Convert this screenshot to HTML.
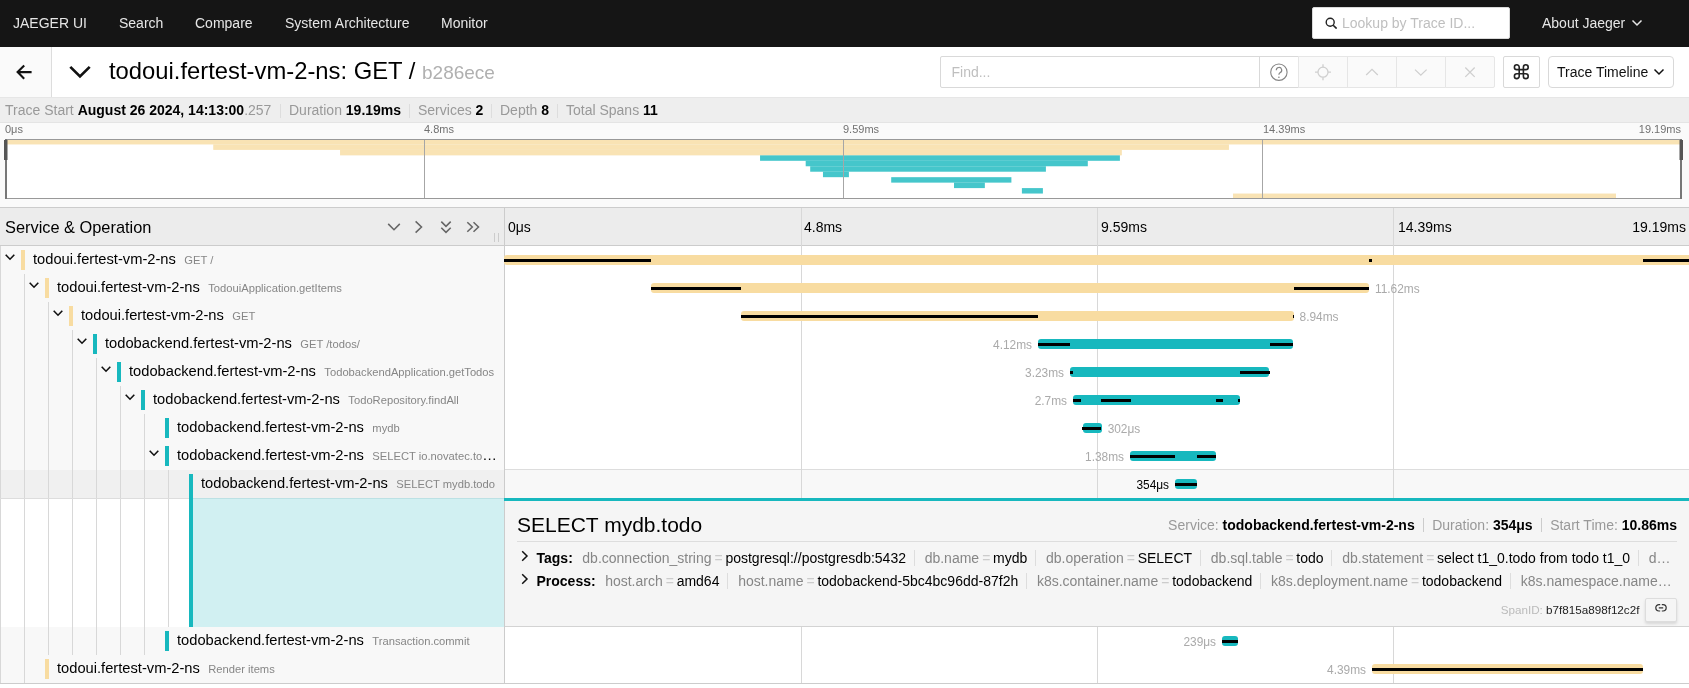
<!DOCTYPE html>
<html>
<head>
<meta charset="utf-8">
<title>Jaeger UI</title>
<style>
*{box-sizing:border-box;margin:0;padding:0}
html,body{width:1689px;height:688px;overflow:hidden;background:#fff}
body{font-family:"Liberation Sans",sans-serif;font-size:14px;color:rgba(0,0,0,.85);position:relative;will-change:transform}
.abs{position:absolute}
/* top nav */
#nav{position:absolute;left:0;top:0;width:1689px;height:47px;background:#151515;color:#e6e6e6}
#nav span{position:absolute;top:0;line-height:46px;font-size:14px;white-space:nowrap}
#lookup{position:absolute;left:1312px;top:7px;width:198px;height:32px;background:#fff;border-radius:2px;border:1px solid #d9d9d9}
#lookup span{position:absolute;left:29px;top:0;line-height:30px;color:#bfbfbf;font-size:14px}
/* title */
#hdr{position:absolute;left:0;top:47px;width:1689px;height:51px;background:#fff;border-bottom:1px solid #e6e6e6}
#back{position:absolute;left:0;top:0;width:52px;height:50px;background:#fafafa;border-right:1px solid #ddd}
#title{position:absolute;left:109px;top:0;line-height:48px;font-size:23.8px;color:#000;white-space:nowrap}
#title small{font-size:19px;color:#b0b0b0;padding-left:0}
.btn{position:absolute;top:9px;height:32px;border:1px solid #d9d9d9;background:#fff;border-radius:2px}
.dis{background:#fafafa;border-color:#e6e6e6}
/* overview */
#ov{position:absolute;left:0;top:98px;width:1689px;height:25px;background:#eee;border-bottom:1px solid #e4e4e4;font-size:14px;line-height:25px;white-space:nowrap}
#ov span{position:absolute;top:0}
#ov .l{color:#999}
#ov b{color:#000}
#ov i{position:absolute;top:6px;width:1px;height:14px;background:#ddd}
/* minimap */
#mm{position:absolute;left:0;top:123px;width:1689px;height:85px;background:#fafafa;border-bottom:1px solid #e6e6e6}
#mm .t{position:absolute;top:-1px;font-size:11px;line-height:14px;color:#717171}
#cv{position:absolute;left:5px;top:16px;overflow:visible}
/* timeline header */
#th{position:absolute;left:0;top:207px;width:1689px;height:39px;background:#ececec;border-top:1px solid #ccc;border-bottom:1px solid #ccc}
#th h3{position:absolute;left:5px;top:1px;line-height:37px;font-size:16.38px;font-weight:normal;color:#000}
#th .tk{position:absolute;top:1px;line-height:37px;font-size:14px;color:#000}
.vl{position:absolute;width:1px;background:#d8d8d8}
/* rows */
.row{position:absolute;left:0;width:1689px;height:28px}
.nm{position:absolute;left:0;top:0;width:504px;height:28px;background:#f8f8f8}
.row.alt .nm{background:#f0f0f0}

.sv{position:absolute;top:0;line-height:27px;font-size:14.7px;color:#000;white-space:nowrap}
.sv small{font-size:11.2px;color:#868686;padding-left:8.4px}
.sv em{font-style:normal;font-size:14.7px;color:#000}
.cb{position:absolute;top:4px;width:4px;height:20px}
.y{background:#f8dca1}
.c{background:#17b8be}
.bar{position:absolute;top:9px;height:10px;border-radius:3px}
.lg{position:absolute;top:13px;height:3px;background:#000}
.lb{position:absolute;top:0;line-height:31px;font-size:11.9px;color:#aaa;white-space:nowrap}
.ind{position:absolute;top:0;width:1px;height:28px;background:#d8d8d8}

#det{position:absolute;left:505px;top:0;width:1184px;height:129px;background:#f5f5f5;border-top:3px solid #17b8be;border-bottom:1px solid #d3d3d3;white-space:nowrap;overflow:hidden}
#det .dt{position:absolute;left:12px;top:9px;font-size:21px;line-height:30px;color:#000}
#det .do{position:absolute;right:12px;top:9px;font-size:14px;line-height:30px;color:#000}
#det .l{color:#999}
#det .do i{display:inline-block;width:1px;height:14px;background:#ccc;margin:0 8.5px 0 8px;vertical-align:-2px}
#det .dl{position:absolute;left:12px;right:12px;top:40px;height:1px;background:#ddd}
#det .kv{position:absolute;left:12px;width:1160px;height:22px;line-height:22px;font-size:14px;color:#000;overflow:hidden}
#det .kv b{margin-left:19.5px}
#det .kv .ar{position:absolute;left:4px;top:3px}
#det .kv .k{color:#868686}
#det .kv .e{color:#ccc;padding:0 2.7px 0 3px}
#det .kv i{display:inline-block;width:1px;height:16px;background:#ddd;margin:0 9.9px 0 7.8px;vertical-align:-3px}
#det .sid{position:absolute;right:49.6px;top:100px;font-size:11.67px;line-height:18px;color:#222}
#det .sid .l{color:#bbb}
#det .lk{position:absolute;right:12px;top:97px;width:32px;height:23.5px;border:1px solid #ddd;background:#f5f5f5;border-radius:2px;box-shadow:0 2px 3px rgba(0,0,0,.12)}
</style>
</head>
<body>
<div id="nav">
<span style="left:13px">JAEGER UI</span>
<span style="left:119px">Search</span>
<span style="left:195px">Compare</span>
<span style="left:285px">System Architecture</span>
<span style="left:441px">Monitor</span>
<div id="lookup">
<svg class="abs" style="left:12px;top:9px" width="12" height="12" viewBox="0 0 12 12"><circle cx="5.2" cy="5.2" r="4" fill="none" stroke="#222" stroke-width="1.4"/><path d="M8.2 8.2 L11.6 11.6" stroke="#222" stroke-width="1.6"/></svg>
<span>Lookup by Trace ID...</span></div>
<span style="left:1542px">About Jaeger</span>
<svg class="abs" style="left:1631px;top:19px" width="12" height="8" viewBox="0 0 12 8"><path d="M1.5 1.5 L6 6 L10.5 1.5" fill="none" stroke="#e6e6e6" stroke-width="1.5"/></svg>
</div>

<div id="hdr">
<div id="back"></div>
<svg class="abs" style="left:0;top:0" width="100" height="50" viewBox="0 47 100 50" fill="none" stroke="#111">
<path d="M31.6 72.1 H18 M24.2 65.5 L17.6 72.1 L24.2 78.7" stroke-width="2.1"/>
<path d="M70.3 66.9 L80 76.4 L89.7 66.9" stroke-width="2.7"/>
</svg>
<div id="title">todoui.fertest-vm-2-ns: GET / <small>b286ece</small></div>
<div class="btn" style="left:940px;width:320px;border-radius:2px 0 0 2px"><span class="abs" style="left:10.5px;top:0;line-height:30px;color:#bfbfbf;font-size:14px">Find...</span></div>
<div class="btn" style="left:1259px;width:40px;border-radius:0"></div>
<div class="btn dis" style="left:1298px;width:50px;border-radius:0"></div>
<div class="btn dis" style="left:1347px;width:50px;border-radius:0"></div>
<div class="btn dis" style="left:1396px;width:50px;border-radius:0"></div>
<div class="btn dis" style="left:1445px;width:50px;border-radius:0 2px 2px 0"></div>
<div class="btn" style="left:1503px;width:37px"></div>
<div class="btn" style="left:1548px;width:126px;border-radius:4px"><span class="abs" style="left:8px;top:0;line-height:30px;font-size:14px;color:#111;white-space:nowrap">Trace Timeline</span>
<svg class="abs" style="left:104px;top:11px" width="12" height="8" viewBox="0 0 12 8"><path d="M1.5 1.5 L6 6 L10.5 1.5" fill="none" stroke="#111" stroke-width="1.5"/></svg></div>
<svg class="abs" style="left:1259px;top:9px" width="290" height="34" viewBox="1259 56 290 34" fill="none">
<circle cx="1278.9" cy="72.2" r="8.2" stroke="#858585" stroke-width="1.1"/>
<path d="M1276.3 70.2 a2.7 2.7 0 1 1 3.9 2.4 c-0.9 0.5 -1.3 1 -1.3 2.2" stroke="#858585" stroke-width="1.2"/>
<circle cx="1278.9" cy="77.3" r="0.8" fill="#858585"/>
<g stroke="#cfcfcf" stroke-width="1.3">
<circle cx="1323" cy="72.2" r="5"/>
<path d="M1323 64.2 V67.2 M1323 77.2 V80.2 M1315 72.2 H1318 M1328 72.2 H1331"/>
<path d="M1366.2 75 L1372 69.4 L1377.8 75"/>
<path d="M1415 69.6 L1420.8 75.2 L1426.6 69.6"/>
<path d="M1465.3 67.5 L1474.7 76.9 M1474.7 67.5 L1465.3 76.9"/>
</g>
<path d="M1519.2 76.2 V67.2 A2.4 2.4 0 1 0 1516.8 69.6 H1525.8 A2.4 2.4 0 1 0 1523.4 67.2 V76.2 A2.4 2.4 0 1 0 1525.8 73.8 H1516.8 A2.4 2.4 0 1 0 1519.2 76.2 Z" stroke="#222" stroke-width="1.6"/>
</svg>
</div>

<div id="ov">
<span class="l" style="left:5px">Trace Start <b>August 26 2024, 14:13:00</b>.257</span>
<i style="left:280px"></i>
<span class="l" style="left:289px">Duration <b>19.19ms</b></span>
<i style="left:409px"></i>
<span class="l" style="left:418px">Services <b>2</b></span>
<i style="left:491px"></i>
<span class="l" style="left:500px">Depth <b>8</b></span>
<i style="left:557px"></i>
<span class="l" style="left:566px">Total Spans <b>11</b></span>
</div>

<div id="mm">
<span class="t" style="left:5px">0μs</span>
<span class="t" style="left:424px">4.8ms</span>
<span class="t" style="left:843px">9.59ms</span>
<span class="t" style="left:1263px">14.39ms</span>
<span class="t" style="right:8px">19.19ms</span>
<svg id="cv" width="1677" height="60" viewBox="0 0 1677 60" shape-rendering="crispEdges">
<rect x="0" y="0" width="1677" height="60" fill="#fff"/>
<rect x="0.00" y="0.00" width="1677.00" height="5.45" fill="#f8dca1" fill-opacity="0.8" shape-rendering="auto"/>
<rect x="208.24" y="5.45" width="1015.73" height="5.45" fill="#f8dca1" fill-opacity="0.8" shape-rendering="auto"/>
<rect x="335.05" y="10.91" width="781.80" height="5.45" fill="#f8dca1" fill-opacity="0.8" shape-rendering="auto"/>
<rect x="755.05" y="16.36" width="359.85" height="5.45" fill="#17b8be" fill-opacity="0.8" shape-rendering="auto"/>
<rect x="800.70" y="21.82" width="282.10" height="5.45" fill="#17b8be" fill-opacity="0.8" shape-rendering="auto"/>
<rect x="805.20" y="27.27" width="235.70" height="5.45" fill="#17b8be" fill-opacity="0.8" shape-rendering="auto"/>
<rect x="817.97" y="32.73" width="25.93" height="5.45" fill="#17b8be" fill-opacity="0.8" shape-rendering="auto"/>
<rect x="886.20" y="38.18" width="120.20" height="5.45" fill="#17b8be" fill-opacity="0.8" shape-rendering="auto"/>
<rect x="949.00" y="43.64" width="30.85" height="5.45" fill="#17b8be" fill-opacity="0.8" shape-rendering="auto"/>
<rect x="1016.90" y="49.09" width="21.00" height="5.45" fill="#17b8be" fill-opacity="0.8" shape-rendering="auto"/>
<rect x="1228.00" y="54.55" width="383.00" height="5.45" fill="#f8dca1" fill-opacity="0.8" shape-rendering="auto"/>
<path d="M419.5 0V60M838.5 0V60M1257.5 0V60" stroke="#a6a6a6" stroke-width="1" fill="none"/>
<rect x="0.5" y="0.5" width="1676" height="59" fill="none" stroke="#999" stroke-width="1"/>
<rect x="0" y="0" width="2" height="60" fill="#777"/>
<rect x="1675" y="0" width="2" height="60" fill="#777"/>
<rect x="-1" y="1" width="3.5" height="20" fill="#555" shape-rendering="auto"/>
<rect x="1674.5" y="1" width="3.5" height="20" fill="#555" shape-rendering="auto"/>
</svg>
</div>

<div id="th">
<h3>Service &amp; Operation</h3>
<span class="tk" style="left:508px">0μs</span>
<span class="tk" style="left:804px">4.8ms</span>
<span class="tk" style="left:1101px">9.59ms</span>
<span class="tk" style="left:1398px">14.39ms</span>
<span class="tk" style="right:3px">19.19ms</span>
</div>
<svg class="abs" style="left:380px;top:212px" width="130" height="34" viewBox="380 212 130 34" fill="none" stroke="#666" stroke-width="1.55">
<path d="M388.2 223.9 L394 229.7 L399.8 223.9"/>
<path d="M415.6 221.4 L421.5 227 L415.6 232.6"/>
<path d="M441.3 221.6 L446 226.3 L450.7 221.6 M441.3 227.7 L446 232.4 L450.7 227.7"/>
<path d="M467.3 222.2 L472.3 227 L467.3 231.8 M473.5 222.2 L478.5 227 L473.5 231.8"/>
<path d="M494.5 233 V242 M498.5 233 V242" stroke="#ccc" stroke-width="1"/>
</svg>
<div id="rows">
<div class="abs" style="left:505px;top:469px;width:1184px;height:29px;background:#f8f8f8;border-top:1px solid #ddd"></div>
<div class="vl" style="left:504px;top:208px;height:475px;background:#ccc"></div>
<div class="vl" style="left:801px;top:208px;height:475px"></div>
<div class="vl" style="left:1097px;top:208px;height:475px"></div>
<div class="vl" style="left:1393px;top:208px;height:475px"></div>
<div class="abs" style="left:0;top:683px;width:1689px;height:1px;background:#ccc"></div>
<div class="abs" style="left:504px;top:498px;width:1px;height:3px;background:#17b8be"></div>

<div class="row" style="top:246px"><div class="nm"><div class="ind" style="left:0px"></div><svg class="abs" style="left:5px;top:8px" width="10" height="7" viewBox="0 0 10 7"><path d="M0.7 0.8 L5 5.2 L9.3 0.8" fill="none" stroke="#111" stroke-width="1.6"/></svg><div class="cb y" style="left:21px"></div><div class="sv" style="left:33px">todoui.fertest-vm-2-ns<small>GET /</small></div></div><div class="bar y" style="left:504px;width:1189px"></div><div class="lg" style="left:504px;width:147px"></div><div class="lg" style="left:1369px;width:3px"></div><div class="lg" style="left:1643px;width:50px"></div></div>
<div class="row" style="top:274px"><div class="nm"><div class="ind" style="left:0px"></div><div class="ind" style="left:24px"></div><svg class="abs" style="left:29px;top:8px" width="10" height="7" viewBox="0 0 10 7"><path d="M0.7 0.8 L5 5.2 L9.3 0.8" fill="none" stroke="#111" stroke-width="1.6"/></svg><div class="cb y" style="left:45px"></div><div class="sv" style="left:57px">todoui.fertest-vm-2-ns<small>TodouiApplication.getItems</small></div></div><div class="bar y" style="left:651px;width:718px"></div><div class="lg" style="left:651px;width:90px"></div><div class="lg" style="left:1294px;width:75px"></div><span class="lb" style="left:1374.95px">11.62ms</span></div>
<div class="row" style="top:302px"><div class="nm"><div class="ind" style="left:0px"></div><div class="ind" style="left:24px"></div><div class="ind" style="left:48px"></div><svg class="abs" style="left:53px;top:8px" width="10" height="7" viewBox="0 0 10 7"><path d="M0.7 0.8 L5 5.2 L9.3 0.8" fill="none" stroke="#111" stroke-width="1.6"/></svg><div class="cb y" style="left:69px"></div><div class="sv" style="left:81px">todoui.fertest-vm-2-ns<small>GET</small></div></div><div class="bar y" style="left:741px;width:552.5999999999999px"></div><div class="lg" style="left:741px;width:297px"></div><div class="lg" style="left:1292.6px;width:1.0px"></div><span class="lb" style="left:1299.55px">8.94ms</span></div>
<div class="row" style="top:330px"><div class="nm"><div class="ind" style="left:0px"></div><div class="ind" style="left:24px"></div><div class="ind" style="left:48px"></div><div class="ind" style="left:72px"></div><svg class="abs" style="left:77px;top:8px" width="10" height="7" viewBox="0 0 10 7"><path d="M0.7 0.8 L5 5.2 L9.3 0.8" fill="none" stroke="#111" stroke-width="1.6"/></svg><div class="cb c" style="left:93px"></div><div class="sv" style="left:105px">todobackend.fertest-vm-2-ns<small>GET /todos/</small></div></div><div class="bar c" style="left:1038px;width:255px"></div><div class="lg" style="left:1038px;width:32px"></div><div class="lg" style="left:1270px;width:23px"></div><span class="lb" style="right:656.95px">4.12ms</span></div>
<div class="row" style="top:358px"><div class="nm"><div class="ind" style="left:0px"></div><div class="ind" style="left:24px"></div><div class="ind" style="left:48px"></div><div class="ind" style="left:72px"></div><div class="ind" style="left:96px"></div><svg class="abs" style="left:101px;top:8px" width="10" height="7" viewBox="0 0 10 7"><path d="M0.7 0.8 L5 5.2 L9.3 0.8" fill="none" stroke="#111" stroke-width="1.6"/></svg><div class="cb c" style="left:117px"></div><div class="sv" style="left:129px">todobackend.fertest-vm-2-ns<small>TodobackendApplication.getTodos</small></div></div><div class="bar c" style="left:1070px;width:198.79999999999995px"></div><div class="lg" style="left:1070px;width:3px"></div><div class="lg" style="left:1240px;width:30px"></div><span class="lb" style="right:624.95px">3.23ms</span></div>
<div class="row" style="top:386px"><div class="nm"><div class="ind" style="left:0px"></div><div class="ind" style="left:24px"></div><div class="ind" style="left:48px"></div><div class="ind" style="left:72px"></div><div class="ind" style="left:96px"></div><div class="ind" style="left:120px"></div><svg class="abs" style="left:125px;top:8px" width="10" height="7" viewBox="0 0 10 7"><path d="M0.7 0.8 L5 5.2 L9.3 0.8" fill="none" stroke="#111" stroke-width="1.6"/></svg><div class="cb c" style="left:141px"></div><div class="sv" style="left:153px">todobackend.fertest-vm-2-ns<small>TodoRepository.findAll</small></div></div><div class="bar c" style="left:1073px;width:167px"></div><div class="lg" style="left:1073px;width:8px"></div><div class="lg" style="left:1101px;width:30px"></div><div class="lg" style="left:1216px;width:7px"></div><div class="lg" style="left:1238px;width:2px"></div><span class="lb" style="right:621.95px">2.7ms</span></div>
<div class="row" style="top:414px"><div class="nm"><div class="ind" style="left:0px"></div><div class="ind" style="left:24px"></div><div class="ind" style="left:48px"></div><div class="ind" style="left:72px"></div><div class="ind" style="left:96px"></div><div class="ind" style="left:120px"></div><div class="ind" style="left:144px"></div><div class="cb c" style="left:165px"></div><div class="sv" style="left:177px">todobackend.fertest-vm-2-ns<small>mydb</small></div></div><div class="bar c" style="left:1083.2px;width:18.5px"></div><div class="lg" style="left:1082.2px;width:19.299999999999955px"></div><span class="lb" style="left:1107.65px">302μs</span></div>
<div class="row" style="top:442px"><div class="nm"><div class="ind" style="left:0px"></div><div class="ind" style="left:24px"></div><div class="ind" style="left:48px"></div><div class="ind" style="left:72px"></div><div class="ind" style="left:96px"></div><div class="ind" style="left:120px"></div><div class="ind" style="left:144px"></div><svg class="abs" style="left:149px;top:8px" width="10" height="7" viewBox="0 0 10 7"><path d="M0.7 0.8 L5 5.2 L9.3 0.8" fill="none" stroke="#111" stroke-width="1.6"/></svg><div class="cb c" style="left:165px"></div><div class="sv" style="left:177px">todobackend.fertest-vm-2-ns<small>SELECT io.novatec.to<em>…</em></small></div></div><div class="bar c" style="left:1130px;width:86px"></div><div class="lg" style="left:1130px;width:45px"></div><div class="lg" style="left:1197px;width:19px"></div><span class="lb" style="right:564.95px">1.38ms</span></div>
<div class="row alt" style="top:470px"><div class="nm"><div class="ind" style="left:0px"></div><div class="ind" style="left:24px"></div><div class="ind" style="left:48px"></div><div class="ind" style="left:72px"></div><div class="ind" style="left:96px"></div><div class="ind" style="left:120px"></div><div class="ind" style="left:144px"></div><div class="ind" style="left:168px"></div><div class="cb c" style="left:189px;height:24px"></div><div class="sv" style="left:201px">todobackend.fertest-vm-2-ns<small>SELECT mydb.todo</small></div></div><div class="bar c" style="left:1175px;width:22px"></div><div class="lg" style="left:1175px;width:22px"></div><span class="lb" style="right:519.95px;color:#000">354μs</span></div>
<div class="abs" style="left:0;top:498px;width:1689px;height:129px"><div class="abs" style="left:0;top:0;width:504px;height:129px;background:#fff"></div><div class="ind" style="left:0px;height:129px"></div><div class="ind" style="left:24px;height:129px"></div><div class="ind" style="left:48px;height:129px"></div><div class="ind" style="left:72px;height:129px"></div><div class="ind" style="left:96px;height:129px"></div><div class="ind" style="left:120px;height:129px"></div><div class="ind" style="left:144px;height:129px"></div><div class="ind" style="left:168px;height:129px"></div><div class="abs" style="left:189px;top:0;width:315px;height:129px;background:#d1f0f2;border-left:4px solid #17b8be"></div><div class="abs" style="left:0;top:0;width:189px;height:1px;background:#ddd"></div><div class="abs" style="left:193px;top:0;width:311px;height:1px;background:#bce1e4"></div><div id="det">
<div class="dt">SELECT mydb.todo</div>
<div class="do"><span class="l">Service:</span> <b>todobackend.fertest-vm-2-ns</b><i></i><span class="l">Duration:</span> <b>354μs</b><i></i><span class="l">Start Time:</span> <b>10.86ms</b></div>
<div class="dl"></div>
<div class="kv" style="top:46px"><svg class="ar" width="8" height="12" viewBox="0 0 8 12"><path d="M1.2 1.2 L6 6 L1.2 10.8" fill="none" stroke="#111" stroke-width="1.5"/></svg><b>Tags:</b><span class="k" style="margin-left:9.5px">db.connection_string</span><span class="e">=</span><span class="v">postgresql://postgresdb:5432</span><i></i><span class="k">db.name</span><span class="e">=</span><span class="v">mydb</span><i></i><span class="k">db.operation</span><span class="e">=</span><span class="v">SELECT</span><i></i><span class="k">db.sql.table</span><span class="e">=</span><span class="v">todo</span><i></i><span class="k">db.statement</span><span class="e">=</span><span class="v">select t1_0.todo from todo t1_0</span><i></i><span class="k">d…</span></div>
<div class="kv" style="top:68.5px"><svg class="ar" width="8" height="12" viewBox="0 0 8 12"><path d="M1.2 1.2 L6 6 L1.2 10.8" fill="none" stroke="#111" stroke-width="1.5"/></svg><b>Process:</b><span class="k" style="margin-left:9.5px">host.arch</span><span class="e">=</span><span class="v">amd64</span><i></i><span class="k">host.name</span><span class="e">=</span><span class="v">todobackend-5bc4bc96dd-87f2h</span><i></i><span class="k">k8s.container.name</span><span class="e">=</span><span class="v">todobackend</span><i></i><span class="k">k8s.deployment.name</span><span class="e">=</span><span class="v">todobackend</span><i></i><span class="k">k8s.namespace.name…</span></div>
<div class="sid"><span class="l">SpanID:</span> b7f815a898f12c2f</div>
<div class="lk"><svg class="abs" style="left:9px;top:4px" width="12" height="10" viewBox="0 0 12 10"><path d="M5.2 1.6 H4 a3.2 3.2 0 0 0 0 6.4 H5.2 M6.8 1.6 H8 a3.2 3.2 0 0 1 0 6.4 H6.8 M3.8 4.8 H8.2" fill="none" stroke="#333" stroke-width="1.2"/></svg></div>
</div></div>
<div class="row" style="top:627px"><div class="nm"><div class="ind" style="left:0px"></div><div class="ind" style="left:24px"></div><div class="ind" style="left:48px"></div><div class="ind" style="left:72px"></div><div class="ind" style="left:96px"></div><div class="ind" style="left:120px"></div><div class="ind" style="left:144px"></div><div class="cb c" style="left:165px"></div><div class="sv" style="left:177px">todobackend.fertest-vm-2-ns<small>Transaction.commit</small></div></div><div class="bar c" style="left:1222px;width:16px"></div><div class="lg" style="left:1222px;width:16px"></div><span class="lb" style="right:472.95px">239μs</span></div>
<div class="row" style="top:655px"><div class="nm"><div class="ind" style="left:0px"></div><div class="ind" style="left:24px"></div><div class="cb y" style="left:45px"></div><div class="sv" style="left:57px">todoui.fertest-vm-2-ns<small>Render items</small></div></div><div class="bar y" style="left:1372px;width:271px"></div><div class="lg" style="left:1372px;width:271px"></div><span class="lb" style="right:322.95px">4.39ms</span></div>
</div>
</body>
</html>
